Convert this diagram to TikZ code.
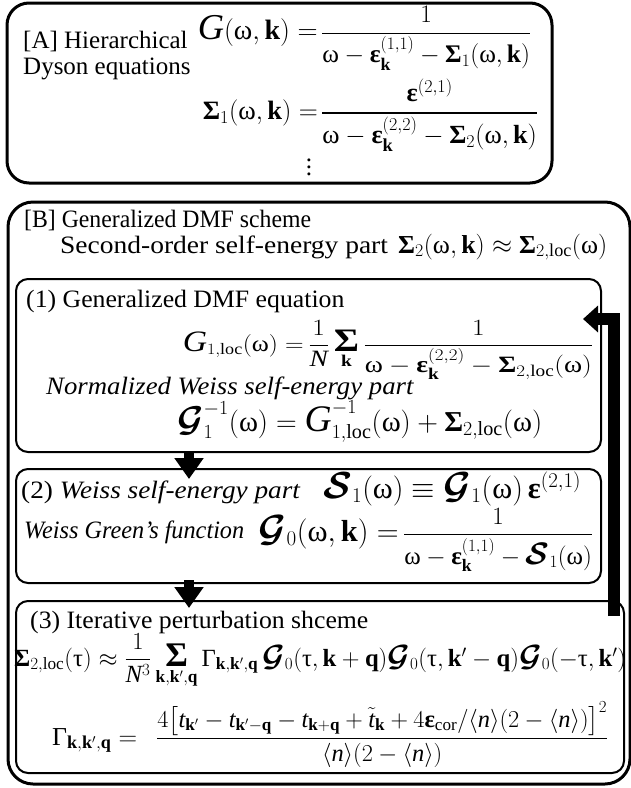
\documentclass[tikz,border=0pt]{standalone}
\usepackage{amsmath}
\usepackage{graphicx}
\usepackage{fontspec}
\setmainfont{Liberation Serif}
\usetikzlibrary{arrows.meta}
\newcommand{\gom}{\text{ω}}
\newcommand{\geps}{\text{\bfseries ε}}
\newcommand{\gsig}{\text{\bfseries Σ}}
\newcommand{\gsum}{\text{\scalebox{1.4}{\bfseries Σ}}}
\newcommand{\gGam}{\text{Γ}}
\newcommand{\gtau}{\text{τ}}
\newcommand{\bk}{\mathbf{k}}
\newcommand{\bq}{\mathbf{q}}
\newcommand{\locs}{\mathrm{loc}}
\newcommand{\Gbig}{\text{\scalebox{1.3}{$\mathit{G}$}}}
\newcommand{\Gscr}{\text{\scalebox{1.25}{$\boldsymbol{\mathcal{G}}$}}}
\newcommand{\Sscr}{\text{\scalebox{1.25}{$\boldsymbol{\mathcal{S}}$}}}
\newcommand{\xs}[2]{\scalebox{#1}[1]{#2}}
\begin{document}
\begin{tikzpicture}[x=1pt,y=-1pt]
\tikzset{
 outerbox/.style={draw, line width=3pt, rounded corners=22pt, inner sep=0pt},
 innerbox/.style={draw, line width=2pt, rounded corners=12pt, inner sep=0pt},
 txt/.style={anchor=base west, inner sep=0pt, font=\fontsize{25}{30}\selectfont},
 eqw/.style={anchor=base west, inner sep=0pt, font=\fontsize{25}{30}\selectfont},
 eqe/.style={anchor=base east, inner sep=0pt, font=\fontsize{25}{30}\selectfont},
 bigarrow/.style={line width=10pt, -{Triangle[width=28pt,length=21pt]}},
 backarrow/.style={line width=12pt, -{Triangle[width=26pt,length=15pt]}},
}
\path[use as bounding box] (0,0) rectangle (631,788);
% boxes
\node[outerbox, minimum width=545pt, minimum height=180pt] (boxA) at (279.5,93) {};
\node[outerbox, rounded corners=25pt, minimum width=622pt, minimum height=582pt] (boxB) at (319,493) {};
\node[innerbox, minimum width=585pt, minimum height=173pt] (box1) at (308.5,365.5) {};
\node[innerbox, minimum width=585pt, minimum height=114pt] (box2) at (308.5,526) {};
\node[innerbox, minimum width=608pt, minimum height=172pt] (box3) at (320,687) {};
% box A
\node[txt] (tA1) at (23,48) {[A] Hierarchical};
\node[txt] (tA2) at (23,74) {Dyson equations};
\node[eqe] (eq1L) at (318,39.5) {\resizebox{120pt}{!}{$\Gbig(\gom,\bk)=$}};
\node[eqw] (eq1R) at (321,39.5) {\resizebox{210pt}{!}{$\dfrac{1}{\gom-\geps_{\bk}^{(1,1)}-\gsig_1(\gom,\bk)}$}};
\node[eqe] (eq2L) at (318,119.5) {\resizebox{115pt}{!}{$\gsig_1(\gom,\bk)=$}};
\node[eqw] (eq2R) at (321,119.5) {\resizebox{217pt}{!}{$\dfrac{\geps^{(2,1)}}{\gom-\geps_{\bk}^{(2,2)}-\gsig_2(\gom,\bk)}$}};
\node[font=\fontsize{25}{30}\selectfont, inner sep=0pt] (dots) at (309,167) {\vbox{\baselineskip=7pt\lineskiplimit=-20pt\hbox{.}\hbox{.}\hbox{.}}};
% box B
\node[txt] (tB1) at (24,227) {\xs{0.95}{[B] Generalized DMF scheme}};
\node[txt] (tB2) at (60,253) {\xs{1.1}{Second-order self-energy part}};
\node[eqw] (eqB) at (398,253) {\resizebox{209pt}{!}{$\gsig_2(\gom,\bk)\approx\gsig_{2,\locs}(\gom)$}};
% box 1
\node[txt] (t11) at (26,307) {\xs{1.03}{(1) Generalized DMF equation}};
\node[eqe] (eq3L) at (304,351) {\scalebox{1}[0.88]{\resizebox{121pt}{!}{$\Gbig_{1,\locs}(\gom)=$}}};
\node[eqw] (eq3R) at (308,351) {\scalebox{1}[0.85]{\resizebox{285pt}{!}{$\dfrac{1}{\mathit{N}}\mathop{\gsum}\limits_{\bk}\dfrac{1}{\gom-\geps_{\bk}^{(2,2)}-\gsig_{2,\locs}(\gom)}$}}};
\node[txt, font=\fontsize{25}{30}\selectfont\itshape] (t12) at (46,394) {\xs{1.07}{Normalized Weiss self-energy part}};
\node[eqw] (eq4) at (177,431) {\resizebox{365pt}{!}{$\Gscr_1^{-1}(\gom)=\Gbig_{1,\locs}^{-1}(\gom)+\gsig_{2,\locs}(\gom)$}};
% box 2
\node[txt] (t21) at (21,498) {\xs{1.09}{(2) \itshape Weiss self-energy part}};
\node[eqw] (eq5) at (323,498) {\resizebox{258pt}{!}{$\Sscr_1(\gom)\equiv\Gscr_1(\gom)\,\geps^{(2,1)}$}};
\node[txt, font=\fontsize{25}{30}\selectfont\itshape] (t22) at (24,538) {\xs{0.97}{Weiss Green’s function}};
\node[eqe] (eq6L) at (399,541) {\resizebox{140pt}{!}{$\Gscr_0(\gom,\bk)=$}};
\node[eqw] (eq6R) at (403,541) {\resizebox{190pt}{!}{$\dfrac{1}{\gom-\geps_{\bk}^{(1,1)}-\Sscr_1(\gom)}$}};
% box 3
\node[txt] (t31) at (30,628) {\xs{1.03}{(3) Iterative perturbation shceme}};
\node[eqw] (eq7) at (14,666) {\resizebox{612pt}{!}{$\gsig_{2,\locs}(\gtau)\approx\dfrac{1}{\mathit{N}^3}\mathop{\gsum}\limits_{\bk,\bk',\bq}\gGam_{\bk,\bk',\bq}\,\Gscr_0(\gtau,\bk+\bq)\Gscr_0(\gtau,\bk'-\bq)\Gscr_0(-\gtau,\bk')$}};
\node[eqw] (eq8L) at (52,745) {\resizebox{85pt}{!}{$\gGam_{\bk,\bk',\bq}=$}};
\node[eqw] (eq8R) at (156,745) {\resizebox{452pt}{!}{$\dfrac{4\boldsymbol{\bigl[}\mathit{t}_{\bk'}-\mathit{t}_{\bk'-\bq}-\mathit{t}_{\bk+\bq}+\tilde{\mathit{t}}_{\bk}+4\geps_{\mathrm{cor}}/\langle\mathit{n}\rangle(2-\langle\mathit{n}\rangle)\boldsymbol{\bigr]}^2}{\langle\mathit{n}\rangle(2-\langle\mathit{n}\rangle)}$}};
% arrows
\coordinate (a1s) at (189,451);
\coordinate (a1e) at (189,479);
\coordinate (a2s) at (189,580);
\coordinate (a2e) at (189,608);
\coordinate (fb0) at (614,616);
\coordinate (fb1) at (614,319);
\coordinate (fb2) at (583,319);
\draw[bigarrow] (a1s) -- (a1e);
\draw[bigarrow] (a2s) -- (a2e);
\draw[backarrow] (fb0) -- (fb1) -- (fb2);
\end{tikzpicture}
\end{document}
